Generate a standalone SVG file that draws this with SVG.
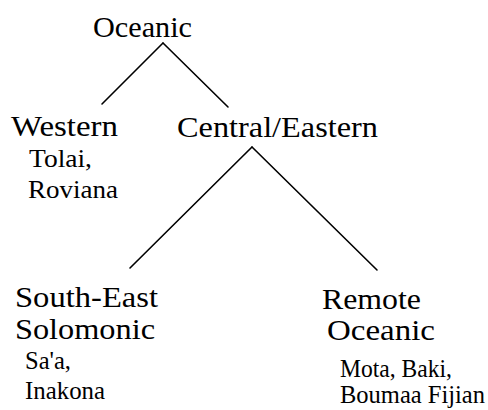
<svg xmlns="http://www.w3.org/2000/svg" width="488" height="410" viewBox="0 0 488 410">
<style>
.big{font-family:"Liberation Serif","Times New Roman",serif;font-size:30px;fill:#000}
.small{font-family:"Liberation Serif","Times New Roman",serif;font-size:25px;fill:#000}
.edge{stroke:#000;stroke-width:1.6;fill:none;stroke-linecap:round}
</style>
<rect width="488" height="410" fill="#fff"/>
<g id="connectors">
<line class="edge" x1="163" y1="43" x2="102" y2="104"/>
<line class="edge" x1="163" y1="43" x2="228" y2="107"/>
<line class="edge" x1="252" y1="147" x2="130" y2="268"/>
<line class="edge" x1="252" y1="147" x2="377" y2="270"/>
</g>
<g id="oceanic">
<text class="big" x="93" y="37" textLength="99" lengthAdjust="spacingAndGlyphs">Oceanic</text>
</g>
<g id="western">
<text class="big" x="11" y="136" textLength="107" lengthAdjust="spacingAndGlyphs">Western</text>
<text class="small" x="29" y="167" textLength="63" lengthAdjust="spacingAndGlyphs">Tolai,</text>
<text class="small" x="28" y="198" textLength="90" lengthAdjust="spacingAndGlyphs">Roviana</text>
</g>
<g id="central-eastern">
<text class="big" x="177" y="137" textLength="201" lengthAdjust="spacingAndGlyphs">Central/Eastern</text>
</g>
<g id="south-east-solomonic">
<text class="big" x="15" y="307" textLength="143" lengthAdjust="spacingAndGlyphs">South-East</text>
<text class="big" x="15" y="339" textLength="140" lengthAdjust="spacingAndGlyphs">Solomonic</text>
<text class="small" x="25" y="369" textLength="46" lengthAdjust="spacingAndGlyphs">Sa'a,</text>
<text class="small" x="25" y="399" textLength="80" lengthAdjust="spacingAndGlyphs">Inakona</text>
</g>
<g id="remote-oceanic">
<text class="big" x="322" y="309" textLength="99" lengthAdjust="spacingAndGlyphs">Remote</text>
<text class="big" x="327" y="340" textLength="108" lengthAdjust="spacingAndGlyphs">Oceanic</text>
<text class="small" x="340" y="377" textLength="112" lengthAdjust="spacingAndGlyphs">Mota, Baki,</text>
<text class="small" x="340" y="403" textLength="145" lengthAdjust="spacingAndGlyphs">Boumaa Fijian</text>
</g>
</svg>
